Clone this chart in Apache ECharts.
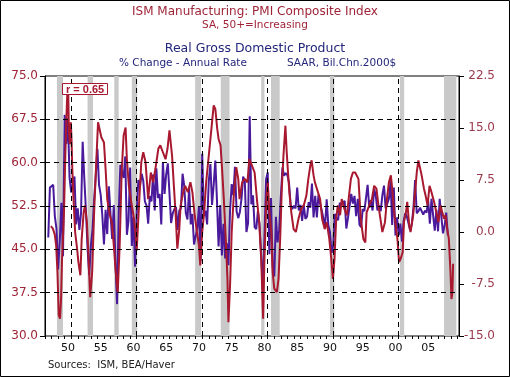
<!DOCTYPE html>
<html>
<head>
<meta charset="utf-8">
<script src="https://cdn.jsdelivr.net/npm/echarts@6/dist/echarts.min.js"></script>
<style>
  html, body { margin: 0; padding: 0; background: #fff; }
  #chart { width: 510px; height: 377px; }
</style>
</head>
<body>
<div id="chart"></div>
<script>
// ISM PMI composite (monthly) as [year, index]
const pmi = [
  [1947.9, 49.0], [1948.2, 48.6], [1948.5, 47.5], [1948.7, 45.7], [1948.9, 41.1], [1949.1, 33.6],
  [1949.3, 33.0], [1949.45, 36.5], [1949.6, 43.4], [1949.8, 48.5], [1949.9, 51.4], [1950.1, 61.2],
  [1950.3, 68.7], [1950.45, 73.5], [1950.55, 72.0], [1950.65, 65.3], [1950.8, 63.2], [1950.95, 67.0],
  [1951.05, 64.0], [1951.15, 59.5], [1951.35, 53.7], [1951.6, 48.0], [1951.9, 45.1], [1952.1, 42.8],
  [1952.4, 40.5], [1952.6, 46.8], [1952.9, 51.4], [1953.1, 52.6], [1953.4, 49.7], [1953.65, 43.4],
  [1953.9, 36.7], [1954.2, 41.1], [1954.5, 51.4], [1954.8, 59.5], [1955.1, 67.0], [1955.3, 66.7],
  [1955.6, 64.4], [1956.0, 63.5], [1956.25, 58.9], [1956.5, 53.7], [1956.9, 50.9], [1957.2, 49.7],
  [1957.5, 45.7], [1957.8, 41.1], [1958.1, 37.5], [1958.4, 45.7], [1958.7, 58.3], [1959.0, 64.7],
  [1959.3, 66.1], [1959.5, 60.6], [1959.8, 56.0], [1960.1, 53.7], [1960.5, 50.9], [1960.8, 48.0],
  [1961.0, 44.8], [1961.35, 52.6], [1961.7, 60.1], [1962.0, 61.8], [1962.35, 60.1], [1962.75, 53.7],
  [1963.15, 58.3], [1963.5, 56.6], [1963.85, 58.9], [1964.3, 62.4], [1964.6, 63.0], [1965.0, 61.8],
  [1965.4, 60.6], [1965.7, 62.4], [1966.0, 65.6], [1966.4, 61.2], [1966.7, 55.5], [1966.95, 50.9],
  [1967.2, 45.1], [1967.5, 48.5], [1967.7, 52.6], [1968.1, 54.9], [1968.4, 56.0], [1968.8, 54.9],
  [1969.2, 56.6], [1969.5, 54.9], [1969.85, 50.9], [1970.2, 48.0], [1970.5, 45.7], [1970.7, 42.2],
  [1971.0, 48.0], [1971.3, 51.4], [1971.6, 56.6], [1972.0, 61.2], [1972.4, 65.8], [1972.75, 69.9],
  [1973.0, 69.3], [1973.3, 65.8], [1973.5, 64.1], [1973.8, 63.0], [1974.0, 59.5], [1974.3, 53.7],
  [1974.6, 46.8], [1974.85, 39.9], [1975.0, 32.4], [1975.25, 38.8], [1975.5, 48.0], [1975.85, 54.9],
  [1976.2, 59.2], [1976.5, 57.2], [1976.7, 53.7], [1977.1, 56.6], [1977.5, 57.2], [1977.9, 56.6],
  [1978.2, 60.6], [1978.6, 59.5], [1979.0, 58.3], [1979.35, 53.7], [1979.7, 49.7], [1980.0, 43.4],
  [1980.3, 33.0], [1980.5, 43.4], [1980.8, 53.7], [1981.0, 56.6], [1981.25, 51.4], [1981.55, 48.0],
  [1981.75, 41.1], [1982.0, 38.2], [1982.4, 37.6], [1982.65, 39.9], [1982.9, 46.8], [1983.15, 55.5],
  [1983.4, 61.2], [1983.7, 66.4], [1983.9, 61.8], [1984.1, 58.3], [1984.3, 54.9], [1984.6, 51.4],
  [1984.95, 48.5], [1985.3, 48.0], [1985.7, 50.3], [1986.1, 52.0], [1986.5, 52.6], [1986.9, 54.3],
  [1987.2, 57.2], [1987.5, 59.5], [1987.7, 60.4], [1988.0, 57.8], [1988.2, 56.6], [1988.5, 55.5],
  [1988.75, 55.5], [1989.0, 53.7], [1989.3, 50.3], [1989.7, 48.5], [1990.0, 49.7], [1990.4, 46.8],
  [1990.7, 43.4], [1990.95, 39.9], [1991.2, 43.4], [1991.45, 50.3], [1991.7, 52.6], [1992.05, 50.9],
  [1992.3, 53.7], [1992.7, 52.0], [1993.1, 50.9], [1993.35, 53.7], [1993.7, 57.2], [1994.0, 58.3],
  [1994.35, 58.3], [1994.55, 58.1], [1994.85, 57.2], [1995.2, 50.3], [1995.6, 46.8], [1995.9, 46.2],
  [1996.1, 51.4], [1996.5, 52.6], [1996.9, 53.7], [1997.25, 56.0], [1997.6, 55.5], [1997.9, 52.6],
  [1998.2, 50.3], [1998.5, 48.0], [1998.9, 49.7], [1999.2, 53.7], [1999.5, 56.6], [1999.8, 57.8],
  [2000.0, 55.5], [2000.3, 51.4], [2000.55, 49.1], [2000.8, 46.8], [2001.05, 42.8], [2001.3, 43.4],
  [2001.6, 44.5], [2001.8, 49.7], [2002.1, 51.4], [2002.3, 53.2], [2002.6, 49.1], [2002.8, 48.0],
  [2003.2, 50.9], [2003.5, 54.9], [2003.75, 58.3], [2004.0, 60.4], [2004.25, 60.6], [2004.5, 57.8],
  [2004.85, 55.5], [2005.1, 54.3], [2005.4, 52.6], [2005.7, 56.0], [2006.0, 54.9], [2006.4, 53.2],
  [2006.75, 51.4], [2007.05, 49.7], [2007.4, 52.6], [2007.65, 51.4], [2007.9, 50.3], [2008.15, 50.9],
  [2008.4, 48.5], [2008.65, 46.8], [2008.9, 41.1], [2009.05, 36.4], [2009.2, 37.6], [2009.3, 42.5]
];

// Real GDP, % change annual rate, quarterly from 1947 Q3
const gdpStart = 1947.5;
const gdpGrowth = [
  -0.8, 6.4,
  6.2, 6.8, 2.3, 0.5,    -5.4, -1.4, 4.2, -3.5,   16.9, 12.7, 16.4, 7.8,   5.7, 7.1, 8.0, 1.1,
  3.4, 0.3, 2.7, 13.0,   7.7, 3.1, -2.4, -6.2,    -2.0, 0.3, 4.7, 8.1,     12.0, 6.8, 5.4, 2.4,
  -1.8, 3.2, -0.3, 6.6,  2.6, -1.0, 3.9, -4.1,    -10.4, 2.6, 9.7, 9.7,    7.8, 10.9, -0.4, 1.6,
  9.3, -2.0, 2.2, -5.0,  2.7, 7.5, 6.6, 8.4,      7.4, 4.4, 3.8, 1.2,      5.2, 4.4, 8.3, 3.1,
  9.2, 4.9, 5.5, 1.1,    10.1, 5.5, 8.3, 9.9,     10.1, 1.3, 2.7, 3.3,     3.6, 0.3, 3.1, 3.4,
  8.4, 6.7, 2.7, 1.8,    6.4, 1.1, 2.6, -1.8,     -0.6, 0.6, 3.6, -4.2,    11.3, 2.3, 3.1, 1.1,
  7.3, 9.8, 3.9, 6.8,    10.3, 4.6, -2.1, 3.9,    -3.4, 1.2, -3.8, -1.6,   -4.8, 3.1, 6.9, 5.3,
  9.4, 3.0, 2.0, 2.9,    4.8, 8.0, 7.4, 0.0,      1.3, 16.7, 4.0, 5.3,     0.7, 0.4, 3.0, 1.1,
  1.3, -7.9, -0.7, 7.6,  8.6, -3.2, 4.9, -4.9,    -6.4, 2.2, -1.5, 0.3,    5.1, 9.3, 8.1, 8.5,
  8.2, 7.1, 3.9, 3.3,    3.8, 3.4, 6.4, 3.1,      3.9, 1.6, 3.9, 1.9,      2.2, 4.3, 3.5, 7.0,
  2.1, 5.2, 2.1, 5.4,    4.1, 3.1, 3.0, 0.8,      4.7, 1.0, 0.0, -3.0,     -2.0, 2.6, 2.0, 1.7,
  4.2, 3.9, 4.0, 4.5,    0.5, 2.0, 2.1, 5.5,      4.1, 5.2, 2.3, 4.8,      1.1, 0.7, 3.3, 3.0,
  2.9, 6.8, 3.5, 4.6,    3.1, 6.2, 5.2, 3.1,      3.8, 3.0, 5.3, 6.7,      3.4, 3.4, 4.8, 7.3,
  1.0, 6.4, -0.5, 2.1,   -0.5, 1.2, -1.4, 1.6,    2.7, 2.2, 2.4, 0.2,      1.2, 3.5, 7.5, 2.7,
  3.0, 3.5, 3.6, 2.5,    3.1, 2.8, 4.5, 1.2,      4.8, 2.4, 0.2, 3.2,      0.1, 4.8, 4.8, -0.2,
  0.9, 2.8, -0.5
];

// shaded recessions [start, end]
const recessions = [
  [1948.83, 1949.75], [1953.5, 1954.33], [1957.58, 1958.25], [1960.25, 1961.08],
  [1969.92, 1970.83], [1973.83, 1975.17], [1980.0, 1980.5], [1981.5, 1982.83],
  [1990.5, 1991.17], [2001.17, 2001.83], [2007.92, 2009.8]
];

const decadeLines = [1951, 1961, 1971, 1981, 1991, 2001];
const pmiGridLines = [37.5, 45, 52.5, 60, 67.5];
const yearTicks = [1947, 1948, 1949, 1950, 1951, 1952, 1953, 1954, 1955, 1956, 1957, 1958, 1959,
  1960, 1961, 1962, 1963, 1964, 1965, 1966, 1967, 1968, 1969, 1970, 1971, 1972, 1973, 1974, 1975,
  1976, 1977, 1978, 1979, 1980, 1981, 1982, 1983, 1984, 1985, 1986, 1987, 1988, 1989, 1990, 1991,
  1992, 1993, 1994, 1995, 1996, 1997, 1998, 1999, 2000, 2001, 2002, 2003, 2004, 2005, 2006, 2007,
  2008, 2009, 2010];
const labelYears = [1950.5, 1955.5, 1960.5, 1965.5, 1970.5, 1975.5, 1980.5, 1985.5, 1990.5, 1995.5, 2000.5, 2005.5];
const yearLabels = ['50', '55', '60', '65', '70', '75', '80', '85', '90', '95', '00', '05'];

const font = 'DejaVu Sans';
const red = '#a8182f';
const purple = '#4a1a9c';
const navy = '#23267a';

const chart = echarts.init(document.getElementById('chart'), null, { renderer: 'canvas' });

const gdpData = gdpGrowth.map((v, i) => [gdpStart + i * 0.25, v]);
const dash = { color: '#000', width: 1, type: [5, 4] };

const option = {
  animation: false,
  backgroundColor: '#fff',
  graphic: [{
    type: 'rect',
    shape: { x: 0.5, y: 0.5, width: 509, height: 376 },
    style: { fill: 'none', stroke: '#000', lineWidth: 1 },
    silent: true
  }],
  title: [
    { text: 'ISM Manufacturing: PMI Composite Index', left: 'center', top: 5, padding: 0,
      textStyle: { fontFamily: font, fontSize: 12, lineHeight: 14, fontWeight: 'normal', color: '#9e2336' } },
    { text: 'SA, 50+=Increasing', left: 'center', top: 19, padding: 0,
      textStyle: { fontFamily: font, fontSize: 10.5, lineHeight: 12, fontWeight: 'normal', color: '#9e2336' } },
    { text: 'Real Gross Domestic Product', left: 'center', top: 42, padding: 0,
      textStyle: { fontFamily: font, fontSize: 12.5, lineHeight: 14, fontWeight: 'normal', color: navy } },
    { text: '% Change - Annual Rate', left: 119, top: 57, padding: 0,
      textStyle: { fontFamily: font, fontSize: 10.5, lineHeight: 12, fontWeight: 'normal', color: navy } },
    { text: 'SAAR, Bil.Chn.2000$', left: 287, top: 57, padding: 0,
      textStyle: { fontFamily: font, fontSize: 10.5, lineHeight: 12, fontWeight: 'normal', color: navy } },
    { text: 'Sources:  ISM, BEA/Haver', left: 48, top: 359, padding: 0,
      textStyle: { fontFamily: font, fontSize: 10, lineHeight: 12, fontWeight: 'normal', color: '#222' } },
    { text: 'r = 0.65', left: 62, top: 83, padding: [1, 4, 0, 4],
      borderColor: red, borderWidth: 1, backgroundColor: '#fff', z: 10,
      textStyle: { fontFamily: 'Liberation Sans', fontSize: 11, lineHeight: 11, fontWeight: 'bold', color: red } }
  ],
  grid: {
    left: 45, right: 51, top: 76, bottom: 41,
    show: true, borderColor: '#000', borderWidth: 1
  },
  xAxis: {
    type: 'value', min: 1947, max: 2010.2,
    axisLine: { show: false, onZero: false },
    axisTick: { show: true, length: 3, customValues: yearTicks, lineStyle: { color: '#000' } },
    axisLabel: {
      customValues: labelYears, margin: 7,
      formatter: v => yearLabels[labelYears.indexOf(v)] || '',
      fontFamily: font, fontSize: 11, color: '#111'
    },
    splitLine: { show: false }
  },
  yAxis: [
    {
      type: 'value', min: 30, max: 75, interval: 7.5,
      axisLine: { show: true, lineStyle: { color: '#000' } },
      axisTick: { show: true, length: 5, lineStyle: { color: '#000' } },
      axisLabel: { formatter: v => v.toFixed(1), margin: 7, fontFamily: font, fontSize: 12, color: '#a02438' },
      splitLine: { show: false }
    },
    {
      type: 'value', min: -15, max: 22.5, interval: 7.5, position: 'right',
      axisLine: { show: true, lineStyle: { color: '#000' } },
      axisTick: { show: true, length: 5, lineStyle: { color: '#000' } },
      axisLabel: { formatter: v => v.toFixed(1), margin: 36, align: 'right',
        fontFamily: font, fontSize: 12, color: '#9a3a4c' },
      splitLine: { show: false }
    }
  ],
  series: [
    {
      name: 'Recessions', type: 'line', data: [], z: 1, silent: true,
      markArea: {
        silent: true,
        itemStyle: { color: '#c9c9c9' },
        data: recessions.map(r => [{ xAxis: r[0] }, { xAxis: r[1] }])
      }
    },
    {
      name: 'Grid', type: 'line', data: [], z: 2, silent: true,
      markLine: {
        silent: true, symbol: ['none', 'none'], label: { show: false },
        lineStyle: dash,
        data: decadeLines.map(x => ({ xAxis: x })).concat(pmiGridLines.map(y => ({ yAxis: y })))
      }
    },
    {
      name: 'Real GDP', type: 'line', yAxisIndex: 1, data: gdpData, z: 3,
      showSymbol: false, lineStyle: { color: purple, width: 2 }, itemStyle: { color: purple }
    },
    {
      name: 'ISM PMI', type: 'line', data: pmi, z: 4,
      showSymbol: false, lineStyle: { color: red, width: 2 }, itemStyle: { color: red }
    }
  ]
};

chart.setOption(option);
</script>
</body>
</html>
